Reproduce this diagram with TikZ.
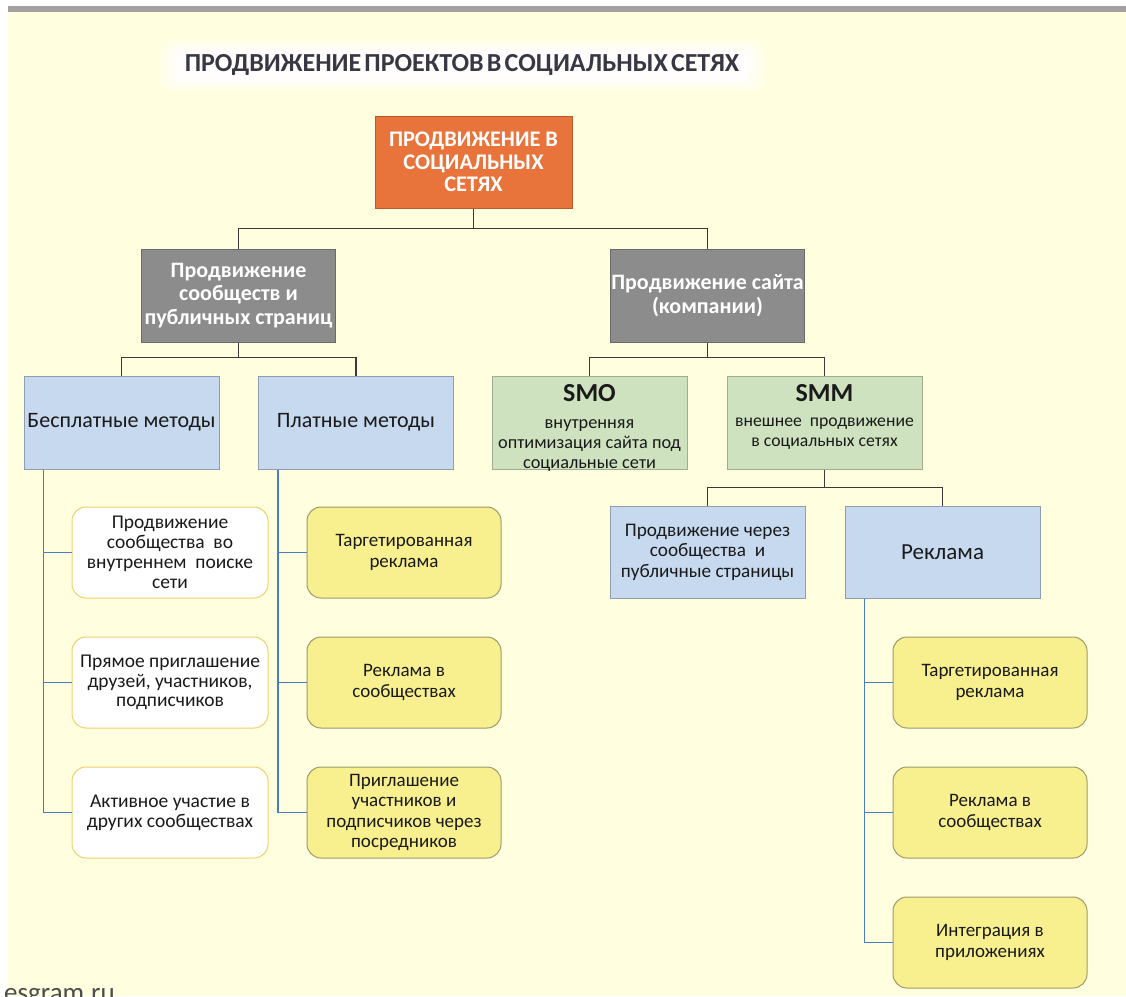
\documentclass[tikz,border=0pt]{standalone}
\usepackage{fontspec}
\setmainfont{Carlito}
\usetikzlibrary{positioning,calc}
\definecolor{bgc}{HTML}{FFFEDE}
\definecolor{barc}{HTML}{A3A09F}
\definecolor{orangef}{HTML}{E8733B}
\definecolor{oranged}{HTML}{B85A2A}
\definecolor{grayf}{HTML}{8C8C8C}
\definecolor{grayd}{HTML}{6A6A6A}
\definecolor{bluef}{HTML}{C7D9EF}
\definecolor{blued}{HTML}{8E9DB0}
\definecolor{greenf}{HTML}{CFE2BF}
\definecolor{greend}{HTML}{9DAF8E}
\definecolor{yelf}{HTML}{F8F08E}
\definecolor{yeld}{HTML}{9E9A6C}
\definecolor{whited}{HTML}{F1D06A}
\definecolor{linec}{HTML}{3A3A3A}
\definecolor{bluel}{HTML}{4A7EC2}
\definecolor{txt}{HTML}{1A1A1A}
\definecolor{titlec}{HTML}{383844}
\tikzset{
  x=1pt, y=-1pt,
  boxbase/.style={rectangle, align=center, inner sep=0pt, minimum width=195pt, minimum height=93pt, line width=1pt, text=txt},
  orangebox/.style={boxbase, fill=orangef, draw=oranged, text=white, font=\fontsize{22.3}{22.5}\selectfont\bfseries, minimum width=197pt},
  graybox/.style={boxbase, fill=grayf, draw=grayd, text=white, font=\fontsize{22}{23.5}\selectfont\bfseries, minimum width=194pt},
  bluebox/.style={boxbase, fill=bluef, draw=blued, font=\fontsize{22}{23}\selectfont},
  greenbox/.style={boxbase, fill=greenf, draw=greend},
  greentext/.style={align=center, inner sep=0pt, text=txt, font=\fontsize{18.3}{20}\selectfont},
  leafw/.style={boxbase, fill=white, draw=whited, rounded corners=14pt, minimum height=91pt, minimum width=196pt, font=\fontsize{19.5}{19.8}\selectfont},
  leafy/.style={boxbase, fill=yelf, draw=yeld, rounded corners=14pt, minimum height=91pt, minimum width=194pt, font=\fontsize{19}{20.5}\selectfont},
  conn/.style={draw=linec, line width=1.4pt},
  bconn/.style={draw=bluel, line width=1.8pt},
}
\begin{document}
\begin{tikzpicture}
\useasboundingbox (0,0) rectangle (1126,996);
\clip (0,0) rectangle (1126,996);
\fill[white] (0,0) rectangle (1126,996);
\fill[bgc] (8,12) rectangle (1126,996);
\fill[barc] (8,6) rectangle (1126,12);
% title glow
\fill[white, opacity=0.35, rounded corners=12pt] (160,40) rectangle (765,92);
\fill[white, opacity=0.55, rounded corners=10pt] (168,45) rectangle (757,86);
\fill[white, opacity=0.8, rounded corners=8pt] (176,50) rectangle (749,81);
\node[text=titlec, font=\fontsize{26}{28}\selectfont\bfseries] (title) at (462,65) {\spaceskip=0.12em\relax ПРОДВИЖЕНИЕ ПРОЕКТОВ В СОЦИАЛЬНЫХ СЕТЯХ};

% level 0
\node[orangebox, minimum height=92pt] (top) at (473.5,162) {ПРОДВИЖЕНИЕ В\\СОЦИАЛЬНЫХ\\СЕТЯХ};
% level 1
\node[graybox] (g1) at (238.5,295.5) {Продвижение\\сообществ и\\публичных страниц};
\node[graybox] (g2) at (707.5,295.5) {Продвижение сайта\\(компании)};
% level 2
\node[bluebox] (b1) at (121.5,422.5) {Бесплатные методы};
\node[bluebox] (b2) at (356,422.5) {Платные методы};
\node[greenbox] (smo) at (589.5,422.5) {};
\node[greentext] (smotxt) at ($(smo.center)+(0,5.5)$) {{\fontsize{26}{24}\selectfont\bfseries SMO}\\[7pt]внутренняя\\оптимизация сайта под\\социальные сети};
\node[greenbox] (smm) at (824.5,422.5) {};
\node[greentext, font=\fontsize{17.7}{20}\selectfont] (smmtxt) at ($(smm.center)+(0,2.5)$) {{\fontsize{26}{24}\selectfont\bfseries SMM}\\[5pt]внешнее\ \ продвижение\\в социальных сетях\\\mbox{}};
% level 3
\node[bluebox, minimum height=92pt, font=\fontsize{19.2}{20.5}\selectfont] (b3) at (707.5,552) {Продвижение через\\сообщества\ \ и\\публичные страницы};
\node[bluebox, minimum height=92pt, font=\fontsize{23}{24}\selectfont] (b4) at (942.5,552) {Реклама};
% leaves
\node[leafw] (w1) at (170,552.5) {Продвижение\\сообщества\ \ во\\внутреннем\ \ поиске\\сети};
\node[leafw] (w2) at (170,682.5) {Прямое приглашение\\друзей, участников,\\подписчиков};
\node[leafw] (w3) at (170,812.5) {Активное участие в\\других сообществах};
\node[leafy] (y1) at (404,552.5) {Таргетированная\\реклама};
\node[leafy] (y2) at (404,682.5) {Реклама в\\сообществах};
\node[leafy] (y3) at (404,812.5) {Приглашение\\участников и\\подписчиков через\\посредников};
\node[leafy] (r1) at (990,682.5) {Таргетированная\\реклама};
\node[leafy] (r2) at (990,812.5) {Реклама в\\сообществах};
\node[leafy] (r3) at (990,942.5) {Интеграция в\\приложениях};

% connectors
\coordinate (j0) at ($(top.south)+(0,20)$);
\draw[conn] (top.south) -- (j0) -| (g1.north);
\draw[conn] (j0) -| (g2.north);
\coordinate (j1) at ($(g1.south)+(0,15)$);
\draw[conn] (g1.south) -- (j1) -| (b1.north);
\draw[conn] (j1) -| (b2.north);
\coordinate (j2) at ($(g2.south)+(0,15)$);
\draw[conn] (g2.south) -- (j2) -| (smo.north);
\draw[conn] (j2) -| (smm.north);
\coordinate (j3) at ($(smm.south)+(0,18)$);
\draw[conn] (smm.south) -- (j3) -| (b3.north);
\draw[conn] (j3) -| (b4.north);

\coordinate (s1) at ($(b1.south west)+(20,0)$);
\draw[bconn] (s1) |- (w1.west);
\draw[bconn] (s1) |- (w2.west);
\draw[bconn] (s1) |- (w3.west);
\coordinate (s2) at ($(b2.south west)+(20,0)$);
\draw[bconn] (s2) |- (y1.west);
\draw[bconn] (s2) |- (y2.west);
\draw[bconn] (s2) |- (y3.west);
\coordinate (s3) at ($(b4.south west)+(20,0)$);
\draw[bconn] (s3) |- (r1.west);
\draw[bconn] (s3) |- (r2.west);
\draw[bconn] (s3) |- (r3.west);

% watermark
\node[anchor=base west, text=black!70, font=\fontsize{27}{27}\selectfont, inner sep=0pt] (wm) at (4,1001) {esgram.ru};
\end{tikzpicture}
\end{document}
